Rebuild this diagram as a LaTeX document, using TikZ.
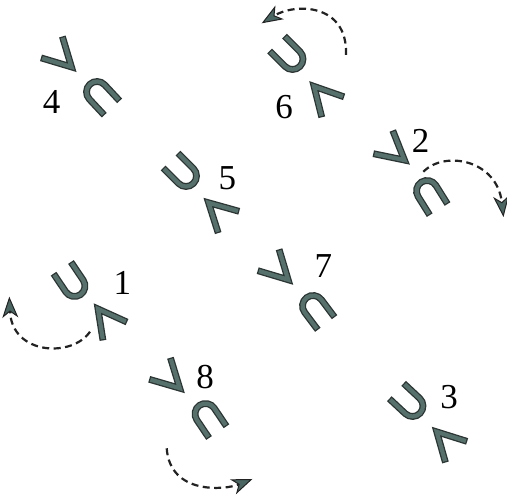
\documentclass[tikz,border=0pt]{standalone}
\usepackage{fontspec}
\setmainfont{Liberation Serif}
\usetikzlibrary{arrows.meta}
\definecolor{glyphdark}{HTML}{2B3533}
\definecolor{glyphfill}{HTML}{56706B}
\definecolor{arrowline}{HTML}{222222}
\definecolor{arrowfill}{HTML}{4A6662}
\tikzset{
  glyphout/.style={draw=glyphdark, line width=6.8pt, line cap=rect, line join=miter},
  glyphin/.style={draw=glyphfill, line width=4.2pt, line cap=rect, line join=miter},
  vee/.pic={
    \draw[glyphout] (-13.5,30) -- (0,5) -- (13.5,30);
    \draw[glyphin] (-13.5,30) -- (0,5) -- (13.5,30);
  },
  cap/.pic={
    \draw[glyphout] (-10.5,-18.5) -- (-10.5,0) arc[start angle=180,end angle=0,radius=10.5pt] -- (10.5,-18.5);
    \draw[glyphin] (-10.5,-18.5) -- (-10.5,0) arc[start angle=180,end angle=0,radius=10.5pt] -- (10.5,-18.5);
  },
  lab/.style={inner sep=0pt, font=\fontsize{35}{35}\selectfont, text=black},
  flip/.style={draw=arrowline, line width=2.2pt, dash pattern=on 7pt off 4.5pt,
    -{Stealth[length=21pt,width=16pt,inset=6pt,fill=arrowfill,line width=1pt]}},
}
\begin{document}
\begin{tikzpicture}[x=1pt,y=1pt]
\useasboundingbox[fill=white] (0,0) rectangle (507,497);
% pair 4
\pic[rotate=45] at (75,426.5) {vee};
\pic[rotate=43] at (97,405) {cap};
\node[lab] (l4) at (51.7,395.3) {4};
% pair 6
\pic[rotate=-135] at (292.5,438) {cap};
\pic[rotate=-137.6] at (310.7,414.3) {vee};
\node[lab] (l6) at (284,390.3) {6};
% pair 5
\pic[rotate=-135] at (186,321) {cap};
\pic[rotate=-134] at (205,297.7) {vee};
\node[lab] (l5) at (227.3,318.7) {5};
% pair 2
\pic[rotate=50] at (408.3,333.7) {vee};
\pic[rotate=32] at (427,306) {cap};
\node[lab] (l2) at (420.7,356.3) {2};
% pair 1
\pic[rotate=-146] at (74.5,211) {cap};
\pic[rotate=-142.7] at (95,192) {vee};
\node[lab] (l1) at (122.3,214) {1};
% pair 7
\pic[rotate=45] at (291.7,213.7) {vee};
\pic[rotate=37] at (313,191) {cap};
\node[lab] (l7) at (323.3,231.3) {7};
% pair 8
\pic[rotate=45.4] at (183.3,105.3) {vee};
\pic[rotate=34] at (205.5,83) {cap};
\node[lab] (l8) at (205,120.3) {8};
% pair 3
\pic[rotate=-133] at (412.5,91) {cap};
\pic[rotate=-135.8] at (433.3,68.7) {vee};
\node[lab] (l3) at (449,99.7) {3};
% arrows
\coordinate (a6s) at (346,442);
\coordinate (a6e) at (261.7,473.7);
\draw[flip] (a6s) .. controls (348,494) and (295,494) .. (a6e);
\coordinate (a2s) at (423.3,325.3);
\coordinate (a2e) at (503.5,280);
\draw[flip] (a2s) .. controls (445,347) and (497,337) .. (a2e);
\coordinate (a1s) at (90,165.3);
\coordinate (a1e) at (9.3,200.3);
\draw[flip] (a1s) .. controls (72,139) and (12,142) .. (a1e);
\coordinate (a8s) at (166.7,48.7);
\coordinate (a8e) at (252.5,18);
\draw[flip] (a8s) .. controls (170,2) and (225,7) .. (a8e);
\end{tikzpicture}
\end{document}
